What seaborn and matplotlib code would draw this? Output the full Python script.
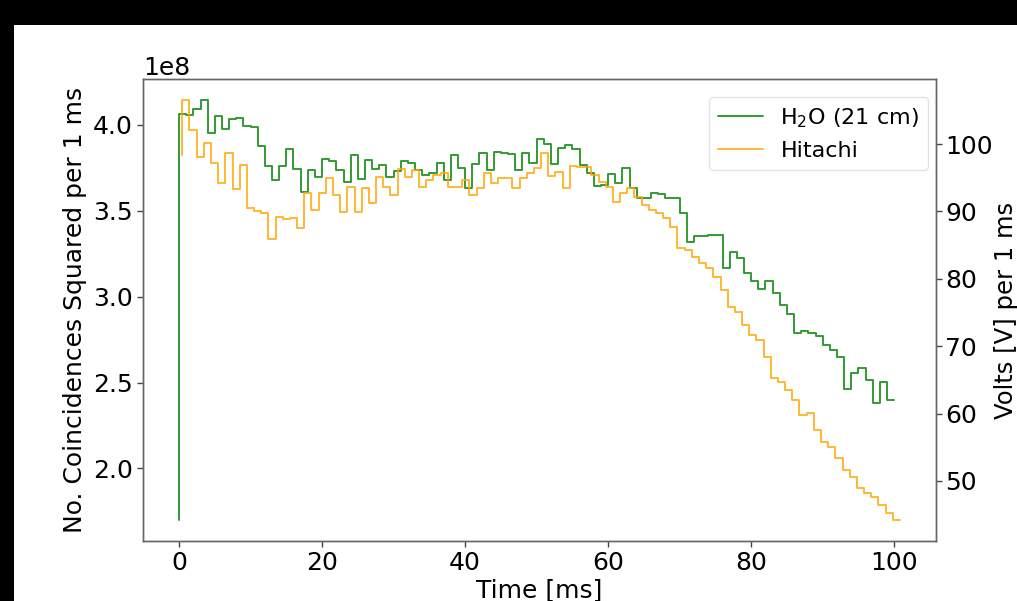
import numpy as np
import matplotlib
matplotlib.use("Agg")
import matplotlib.pyplot as plt
from matplotlib.patches import Rectangle
import seaborn as sns

# Coincidence rate (squared, per 1 ms bin) for the 21 cm water target, in units of 1e8
h2o_coinc = [
    1.70, 4.062, 4.058, 4.091, 4.145, 3.955, 4.052, 3.975, 4.033, 4.039,
    3.994, 3.990, 3.878, 3.762, 3.680, 3.758, 3.860, 3.742, 3.612, 3.738,
    3.699, 3.802, 3.787, 3.738, 3.670, 3.826, 3.684, 3.797, 3.742, 3.767,
    3.694, 3.729, 3.787, 3.777, 3.740, 3.709, 3.719, 3.777, 3.680, 3.826,
    3.748, 3.632, 3.773, 3.839, 3.738, 3.845, 3.839, 3.831, 3.738, 3.835,
    3.777, 3.917, 3.890, 3.773, 3.868, 3.884, 3.858, 3.767, 3.719, 3.642,
    3.651, 3.713, 3.661, 3.752, 3.632, 3.574, 3.574, 3.603, 3.599, 3.574,
    3.572, 3.486, 3.318, 3.351, 3.351, 3.360, 3.360, 3.167, 3.258, 3.225,
    3.140, 3.090, 3.045, 3.090, 3.020, 2.950, 2.900, 2.790, 2.800, 2.790,
    2.770, 2.720, 2.690, 2.650, 2.460, 2.556, 2.585, 2.517, 2.382, 2.502,
    2.401,
]

# Hitachi supply voltage per 1 ms bin [V]
hitachi_volts = [
    98.37, 106.53, 102.08, 98.12, 100.20, 97.13, 94.16, 98.62, 93.27, 96.88,
    90.46, 90.06, 89.71, 85.86, 89.22, 88.82, 88.97, 87.49, 92.68, 90.21,
    92.68, 94.91, 92.43, 89.96, 93.67, 89.96, 93.42, 91.30, 95.15, 93.67,
    92.43, 96.24, 95.15, 96.15, 93.67, 94.66, 95.40, 95.65, 93.67, 93.67,
    94.66, 92.43, 93.42, 95.75, 94.16, 94.91, 94.91, 93.42, 94.91, 95.65,
    96.39, 98.71, 95.25, 95.90, 93.42, 96.74, 96.54, 96.54, 95.40, 94.41,
    93.67, 91.45, 92.68, 93.42, 92.19, 90.95, 90.21, 89.81, 88.97, 87.74,
    84.52, 84.27, 83.28, 82.40, 81.55, 80.32, 78.34, 75.86, 75.12, 73.14,
    71.66, 70.92, 68.44, 65.23, 64.74, 63.50, 62.01, 59.79, 60.13, 57.56,
    55.83, 55.09, 53.36, 51.63, 50.64, 48.91, 48.17, 47.67, 46.43, 45.20,
    44.21,
]

# Time axes [ms]
h2o_time = np.arange(len(h2o_coinc), dtype=float)
hitachi_time = np.linspace(0.45, 100.8, len(hitachi_volts))

labels = ["H$_2$O (21 cm)", "Hitachi"]
colors = ["green", "orange"]

sns.set_style("white")
plt.rcParams["font.family"] = ["DejaVu Sans"]
plt.rcParams["text.color"] = "black"
plt.rcParams["axes.labelcolor"] = "black"
plt.rcParams["xtick.color"] = "black"
plt.rcParams["ytick.color"] = "black"

fig = plt.figure(figsize=(10.17, 6.01), dpi=100, facecolor="black")
fig.add_artist(Rectangle((14 / 1017, 0), 1, 1 - 25 / 601, transform=fig.transFigure,
                         facecolor="white", edgecolor="none", zorder=-10))

ax = fig.add_axes([143 / 1017, 1 - 541 / 601, 793 / 1017, 462 / 601])
ax2 = ax.twinx()

sns.lineplot(x=h2o_time, y=np.array(h2o_coinc) * 1e8, ax=ax, color=colors[0],
             alpha=0.8, linewidth=1.4, drawstyle="steps-pre",
             estimator=None, sort=False, legend=False)
sns.lineplot(x=hitachi_time, y=hitachi_volts, ax=ax2, color=colors[1],
             alpha=0.8, linewidth=1.4, drawstyle="steps-pre",
             estimator=None, sort=False, legend=False)

ax.set_xlabel("Time [ms]", fontsize=18, labelpad=2)
ax.set_ylabel("No. Coincidences Squared per 1 ms", fontsize=18)
ax2.set_ylabel("Volts [V] per 1 ms", fontsize=17.5, labelpad=1)

ax.set_xticks([0, 20, 40, 60, 80, 100])
ax2.set_yticks([50, 60, 70, 80, 90, 100])

for a in (ax, ax2):
    a.tick_params(axis="both", labelsize=18, length=4, width=1, color="#444444",
                  labelcolor="black", direction="out")
    for s in a.spines.values():
        s.set_color("#666666")
        s.set_linewidth(1)
ax.tick_params(left=True, bottom=True)
ax2.tick_params(right=True, pad=2.5)
ax.yaxis.get_offset_text().set_fontsize(18)
ax.yaxis.get_offset_text().set_color("black")

handles = [ax.get_lines()[0], ax2.get_lines()[0]]
leg = ax2.legend(handles, labels, loc="upper right", fontsize=16,
                 bbox_to_anchor=(0.990, 0.961), borderaxespad=0, frameon=True)
leg.get_frame().set_edgecolor("#dddddd")
for t in leg.get_texts():
    t.set_color("black")

fig.savefig("out.png", dpi=100, facecolor=fig.get_facecolor())
